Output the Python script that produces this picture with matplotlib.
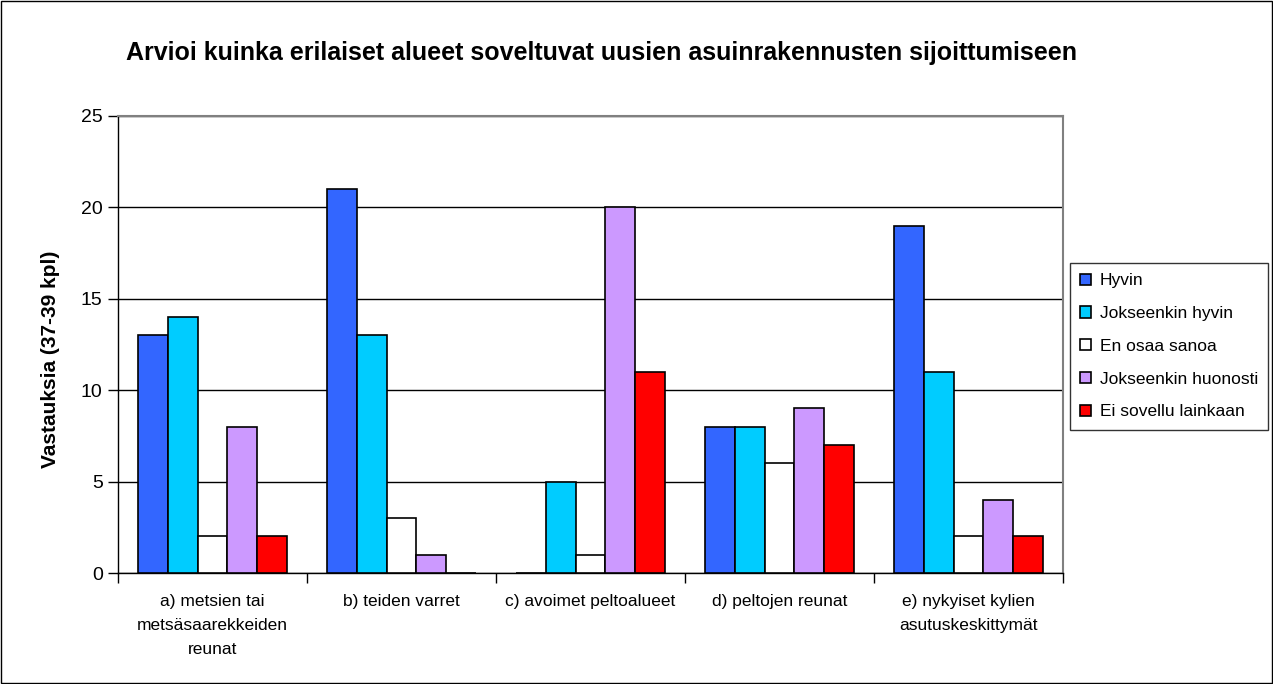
import matplotlib
matplotlib.use("Agg")
import matplotlib.pyplot as plt
import numpy as np
from matplotlib.patches import Rectangle

plt.rcParams['font.family'] = ['Liberation Sans', 'DejaVu Sans']

title = "Arvioi kuinka erilaiset alueet soveltuvat uusien asuinrakennusten sijoittumiseen"
ylabel = "Vastauksia (37-39 kpl)"
categories = ["a) metsien tai\nmetsäsaarekkeiden\nreunat", "b) teiden varret",
              "c) avoimet peltoalueet", "d) peltojen reunat",
              "e) nykyiset kylien\nasutuskeskittymät"]
series = ["Hyvin", "Jokseenkin hyvin", "En osaa sanoa", "Jokseenkin huonosti", "Ei sovellu lainkaan"]
hyvin = [13, 21, 0, 8, 19]
jokseenkin_hyvin = [14, 13, 5, 8, 11]
en_osaa = [2, 3, 1, 6, 2]
jokseenkin_huonosti = [8, 1, 20, 9, 4]
ei_sovellu = [2, 0, 11, 7, 2]
values = [hyvin, jokseenkin_hyvin, en_osaa, jokseenkin_huonosti, ei_sovellu]
colors = ["#3366FF", "#00CCFF", "#FFFFFF", "#CC99FF", "#FF0000"]
yticks = [0, 5, 10, 15, 20, 25]

fig = plt.figure(figsize=(12.73, 6.84), dpi=100)
ax = fig.add_axes([118/1273, (684-573)/684, (1063-118)/1273, (573-116)/684])

x = np.arange(len(categories))
w = 0.157
for i, (name, vals, c) in enumerate(zip(series, values, colors)):
    ax.bar(x + (i - 2) * w, vals, width=w, color=c, edgecolor="black", linewidth=1.2,
           label=name, zorder=3)

ax.set_xlim(-0.5, len(categories) - 0.5)
ax.set_ylim(0, 25)
ax.set_yticks(yticks)
ax.set_yticklabels([str(t) for t in yticks], fontsize=14)
ax.yaxis.grid(True, color="black", linewidth=1.0, zorder=0)
ax.set_xticks(np.arange(len(categories) + 1) - 0.5)
ax.set_xticklabels([])
ax.set_xticks(x, minor=True)
ax.set_xticklabels(categories, minor=True, fontsize=12.5, linespacing=1.75)
ax.tick_params(axis="x", which="minor", length=0, pad=15)
ax.tick_params(axis="x", which="major", length=7, width=1, direction="out")
ax.tick_params(axis="y", length=7, width=1, direction="out", pad=4)

for s in ["top", "right"]:
    ax.spines[s].set_color("#808080")
    ax.spines[s].set_linewidth(1.5)
for s in ["left", "bottom"]:
    ax.spines[s].set_color("black")
    ax.spines[s].set_linewidth(1.0)

fig.text(51/1273, 1 - 359/684, ylabel, rotation=90, ha="center", va="center",
         fontsize=15, fontweight="bold")

fig.text(601/1273, 1 - 53/684, title, ha="center", va="center",
         fontsize=18, fontweight="bold")

leg = ax.legend(loc="upper left", bbox_to_anchor=(1070/1273, 1 - 263/684),
                bbox_transform=fig.transFigure, fontsize=12.5, frameon=True,
                fancybox=False, edgecolor="black", handlelength=0.6, handleheight=0.6,
                handletextpad=0.5, labelspacing=1.02, borderpad=0.6, borderaxespad=0)
leg.get_frame().set_linewidth(1.0)

fig.patches.append(Rectangle((0.001, 0.001), 0.998, 0.997, transform=fig.transFigure,
                             fill=False, edgecolor="black", linewidth=1.0))

fig.savefig("out.png", dpi=100)
